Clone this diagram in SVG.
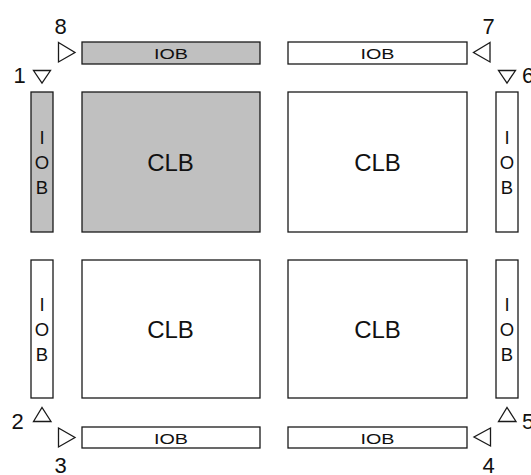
<svg xmlns="http://www.w3.org/2000/svg" width="531" height="475" viewBox="0 0 531 475">
<style>
.box{stroke:#1a1a1a;stroke-width:1.3;fill:#ffffff}
.g{fill:#c0c0c0}
.tri{stroke:#1a1a1a;stroke-width:1.3;fill:#ffffff;stroke-linejoin:miter}
text{font-family:"Liberation Sans",Arial,sans-serif;fill:#111;text-anchor:middle}
.clb{font-size:24px}
.iob{font-size:15.5px}
.v{font-size:18.5px}
.num{font-size:22px;text-anchor:start}
</style>
<rect width="531" height="475" fill="#ffffff"/>
<g id="iob-top-left"><rect class="box g" x="82" y="42" width="178" height="22"/><text class="iob" x="171" y="58.5" textLength="34" lengthAdjust="spacingAndGlyphs">IOB</text></g>
<g id="iob-top-right"><rect class="box" x="288" y="42" width="179" height="22"/><text class="iob" x="377.5" y="58.5" textLength="34" lengthAdjust="spacingAndGlyphs">IOB</text></g>
<g id="iob-bottom-left"><rect class="box" x="82" y="427" width="178" height="21"/><text class="iob" x="171" y="443.5" textLength="34" lengthAdjust="spacingAndGlyphs">IOB</text></g>
<g id="iob-bottom-right"><rect class="box" x="288" y="427" width="179" height="21"/><text class="iob" x="377.5" y="443.5" textLength="34" lengthAdjust="spacingAndGlyphs">IOB</text></g>
<g id="iob-left-upper"><rect class="box g" x="31" y="92" width="22" height="140"/><text class="v" x="42" y="143.5">I</text><text class="v" x="42" y="168.5">O</text><text class="v" x="42" y="194">B</text></g>
<g id="iob-left-lower"><rect class="box" x="31" y="260" width="22" height="138"/><text class="v" x="42" y="310.5">I</text><text class="v" x="42" y="335.5">O</text><text class="v" x="42" y="361">B</text></g>
<g id="iob-right-upper"><rect class="box" x="496" y="92" width="22" height="140"/><text class="v" x="507" y="143.5">I</text><text class="v" x="507" y="168.5">O</text><text class="v" x="507" y="194">B</text></g>
<g id="iob-right-lower"><rect class="box" x="496" y="260" width="22" height="138"/><text class="v" x="507" y="310.5">I</text><text class="v" x="507" y="335.5">O</text><text class="v" x="507" y="361">B</text></g>
<g id="clb-tl"><rect class="box g" x="82" y="92" width="178" height="140"/><text class="clb" x="170.5" y="171">CLB</text></g>
<g id="clb-tr"><rect class="box" x="288" y="92" width="179" height="140"/><text class="clb" x="377.5" y="171">CLB</text></g>
<g id="clb-bl"><rect class="box" x="82" y="260" width="178" height="138"/><text class="clb" x="170.5" y="338">CLB</text></g>
<g id="clb-br"><rect class="box" x="288" y="260" width="179" height="138"/><text class="clb" x="377.5" y="338">CLB</text></g>
<g id="connectors">
<polygon id="t8" class="tri g" points="58.5,42.5 75,52.5 58.5,62"/>
<polygon id="t1" class="tri" points="33.5,70.5 50.5,70.5 42,83"/>
<polygon id="t7" class="tri" points="490,42.5 473.5,52.5 490,62"/>
<polygon id="t6" class="tri" points="498.5,70.5 515.5,70.5 507,83"/>
<polygon id="t2" class="tri" points="33.5,421.5 51,421.5 42,407.5"/>
<polygon id="t3" class="tri" points="58.5,428 75,437.5 58.5,447"/>
<polygon id="t4" class="tri" points="490.5,428 474,437 490.5,446"/>
<polygon id="t5" class="tri" points="498.5,421.5 516,421.5 507,407.5"/>
</g>
<g id="labels">
<text class="num" x="54.5" y="33.5">8</text>
<text class="num" x="13.5" y="83">1</text>
<text class="num" x="482.5" y="33.5">7</text>
<text class="num" x="522" y="83">6</text>
<text class="num" x="11.5" y="428.5">2</text>
<text class="num" x="54.5" y="472.5">3</text>
<text class="num" x="482.5" y="472.5">4</text>
<text class="num" x="522" y="428.5">5</text>
</g>
</svg>
